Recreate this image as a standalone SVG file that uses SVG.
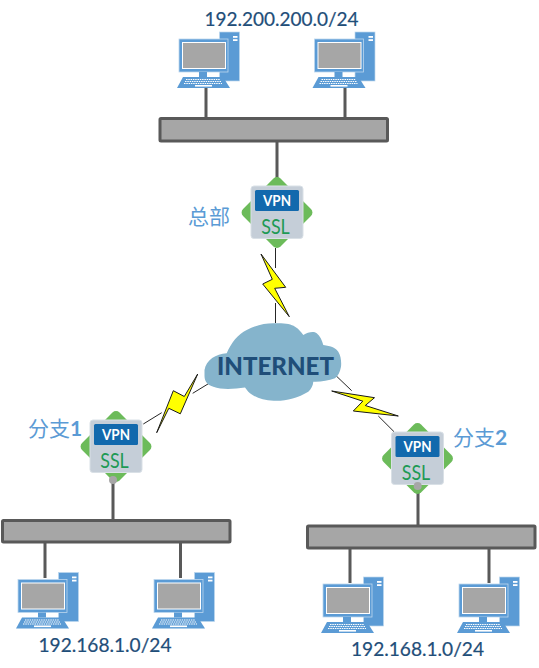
<svg xmlns="http://www.w3.org/2000/svg" xmlns:xlink="http://www.w3.org/1999/xlink" width="539" height="668" viewBox="0 0 539 668">
<style>
.wire{stroke:#595959;stroke-width:3;fill:none}
.thin{stroke:#262626;stroke-width:1;fill:none}
.bar{fill:#a6a6a6;stroke:#595959;stroke-width:3}
.bolt{fill:#ffff00;stroke:#1a1a1a;stroke-width:1;stroke-linejoin:miter}
.ip{font-family:Lato,"Liberation Sans",sans-serif;font-size:18.5px;fill:#1f4e79;stroke:#1f4e79;stroke-width:0.2}
.cn{font-family:"Noto Sans CJK SC","Noto Sans",sans-serif;font-size:21px;fill:#5b9bd5}
.num{font-family:Lato,"Noto Sans CJK SC",sans-serif;font-weight:700}
.dot{fill:#a6a6a6}
</style>
<defs>
<g id="pc">
<rect x="42.500" y="0" width="20" height="49" fill="#5b9bd5" stroke="#bdd7ee" stroke-width="0.7"/>
<rect x="56" y="4" width="4.500" height="1.800" fill="#ffffff"/>
<rect x="56" y="7.200" width="4.500" height="1.800" fill="#ffffff"/>
<rect x="2" y="7" width="49" height="33" fill="#5b9bd5" stroke="#bdd7ee" stroke-width="0.8"/>
<rect x="5.500" y="10.500" width="43" height="26" fill="#a6a6a6" stroke="#ffffff" stroke-width="1"/>
<rect x="22" y="40" width="8" height="5" fill="#5b9bd5"/>
<path d="M6 45H46L53 56H0Z" fill="#5b9bd5"/>
<path d="M9 47.500H43M8 49.500H44M7 51.500H45" stroke="#ffffff" stroke-width="1" stroke-dasharray="1.500 0.800" fill="none"/>
<rect x="18" y="53" width="17" height="1.600" fill="#ffffff"/>
</g>
<g id="vpn">
<rect x="-26.500" y="-26.500" width="53" height="53" rx="5" fill="#6cbb5a" transform="rotate(45)"/>
<rect x="-26" y="-26.500" width="52" height="52.500" rx="3" fill="#c5ced8" stroke="#d9e0e6" stroke-width="1"/>
<rect x="-22" y="-22.500" width="44" height="21" rx="1.500" fill="#1269ad"/>
<text x="0" y="-6.500" text-anchor="middle" font-family="Lato,'Liberation Sans',sans-serif" font-weight="700" font-size="15" fill="#ffffff" textLength="28" lengthAdjust="spacingAndGlyphs">VPN</text>
<text x="-1.500" y="21" text-anchor="middle" font-family="Lato,'Liberation Sans',sans-serif" font-size="21" fill="#1e9a55" textLength="28.500" lengthAdjust="spacingAndGlyphs">SSL</text>
</g>
</defs>
<g id="connectors">
<path class="wire" d="M206 88V117M345 88V117M277 142V181M113 480V519M45 543V578M180.500 543V578M418 486V525M350 549V583M489 549V583"/>
<path class="thin" d="M275.500 248V268M275.500 303V323M143.300 424L161.700 412.700M192.700 393.300L211.700 381.700M336 375.700L351.700 390.700M378.300 416L394 431.700"/>
</g>
<g id="bolts">
<polygon class="bolt" points="261,254 272.300,279.300 262.700,284 289.300,316.700 274.700,288.300 285.700,287.300"/>
<polygon class="bolt" points="197.700,374 180.300,413.800 168.800,408.300 156.700,432.700 173.300,390.700 184.300,396.500"/>
<polygon class="bolt" points="331.700,391 374.500,397.700 365.300,405.500 398.300,416 353.300,411 362.800,401.200"/>
</g>
<g id="internet">
<path fill="#85b4cc" d="M204.500 370C206 360 216 354 226.700 353.300C231 343 238 334 246.700 330C256 325 266 323 275 323.300C285 323 291 324 295 326.700C299 329 301 332 303.300 335C308 332 314 331 316.700 333.300C320 336 322 340 323.300 345C331 346 336 348 338.300 351.700C341 356 341.500 362 341 366.700C340 372 338 376 335 378.300C328 381 320 382 313.300 381.700C313 386 311 389 308.300 391.700C298 398 286 401 275 400.700C263 401 254 397 248.300 391.700L245 387.500C234 389 222 390 213.300 386.700C208 385 204.500 382 204.500 376Z"/>
<text x="275.500" y="375" text-anchor="middle" font-family="Lato,'Liberation Sans',sans-serif" font-weight="900" font-size="25" fill="#1f4e79" textLength="117" lengthAdjust="spacingAndGlyphs">INTERNET</text>
</g>
<g id="lan-top">
<rect class="bar" x="160" y="118.500" width="227.500" height="22.500" rx="1"/>
<text class="ip" x="281.500" y="26" text-anchor="middle" textLength="154" lengthAdjust="spacingAndGlyphs">192.200.200.0/24</text>
</g>
<g id="pc-top-1"><use href="#pc" xlink:href="#pc" x="177" y="32"/></g>
<g id="pc-top-2"><use href="#pc" xlink:href="#pc" x="312.500" y="32"/></g>
<g id="vpn-hq">
<use href="#vpn" xlink:href="#vpn" x="277" y="212.500"/>
<text class="cn" x="188" y="224">总部</text>
</g>
<g id="vpn-branch1">
<use href="#vpn" xlink:href="#vpn" x="116" y="446.500"/>
<circle class="dot" cx="113" cy="480" r="4"/>
<text class="cn" x="28" y="436">分支<tspan class="num">1</tspan></text>
</g>
<g id="vpn-branch2">
<use href="#vpn" xlink:href="#vpn" x="417.500" y="458.500"/>
<circle class="dot" cx="417.700" cy="486" r="4"/>
<text class="cn" x="453" y="445">分支<tspan class="num">2</tspan></text>
</g>
<g id="lan-branch1">
<rect class="bar" x="2.500" y="520.500" width="227.500" height="21.500" rx="1"/>
<text class="ip" x="105" y="652" text-anchor="middle" textLength="133" lengthAdjust="spacingAndGlyphs">192.168.1.0/24</text>
</g>
<g id="pc-b1-1"><use href="#pc" xlink:href="#pc" x="16" y="572.500"/></g>
<g id="pc-b1-2"><use href="#pc" xlink:href="#pc" x="152" y="572.500"/></g>
<g id="lan-branch2">
<rect class="bar" x="307.500" y="526" width="227.500" height="22" rx="1"/>
<text class="ip" x="417.500" y="656" text-anchor="middle" textLength="133" lengthAdjust="spacingAndGlyphs">192.168.1.0/24</text>
</g>
<g id="pc-b2-1"><use href="#pc" xlink:href="#pc" x="321" y="577"/></g>
<g id="pc-b2-2"><use href="#pc" xlink:href="#pc" x="457" y="577"/></g>
</svg>
